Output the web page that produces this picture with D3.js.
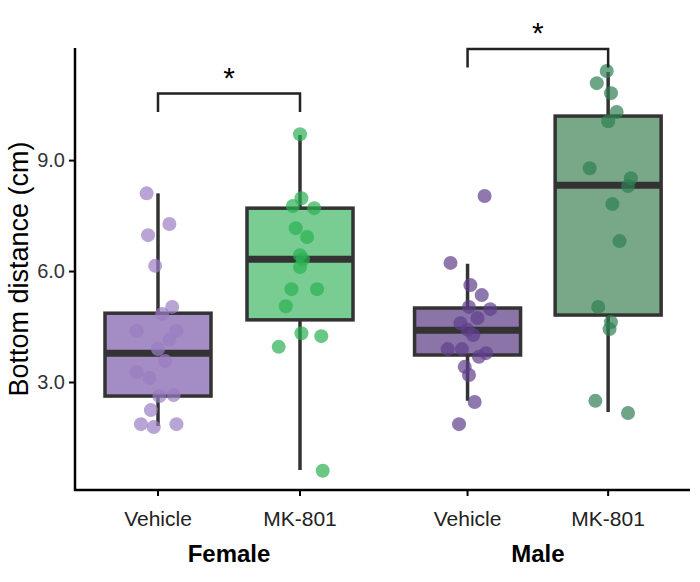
<!DOCTYPE html>
<html><head><meta charset="utf-8">
<script src="https://cdn.jsdelivr.net/npm/d3@7"></script>
<style>body{margin:0;background:#fff}text{font-family:"Liberation Sans",Arial,sans-serif}</style>
</head><body><div class="canvas"></div>
<script>
// groups: position on the x axis (female pair, gap, male pair)
const labels = ['Vehicle', 'MK-801', 'Vehicle', 'MK-801']
const positions = [1, 2, 3.18, 4.17]
const sexes = ['Female', 'Male']
const yTicks = [3, 6, 9]

// box stats: lower whisker, q1, median, q3, upper whisker
const boxStats = [
  [1.81, 2.62, 3.78, 4.86, 8.1],
  [0.62, 4.68, 6.32, 7.70, 9.68],
  [2.49, 3.73, 4.4, 5.0, 6.2],
  [2.19, 4.81, 8.32, 10.19, 11.38]
]

// points: [jitter offset, value]
const femaleVehicle = [[-0.08,8.1],[0.08,7.27],[-0.07,6.97],[-0.02,6.14],[0.1,5.03],[0.03,4.84],[-0.15,4.38],[0.13,4.38],[0.08,4.14],[0,3.89],[0.05,3.57],[-0.15,3.27],[-0.06,3.11],[0.01,2.62],[0.11,2.65],[-0.05,2.24],[-0.12,1.86],[-0.03,1.78],[0.13,1.86]]
const femaleMK = [[0,9.7],[0.01,7.97],[-0.05,7.76],[0.1,7.7],[-0.03,7.16],[0.05,6.92],[0,6.43],[0.02,6.32],[0,6.11],[-0.06,5.51],[0.12,5.51],[-0.1,5.05],[0.01,4.32],[0.15,4.24],[-0.15,3.95],[0.16,0.6]]
const maleVehicle = [[0.12,8.03],[-0.12,6.22],[0.02,5.62],[0.1,5.35],[0.01,5.03],[0.16,4.97],[0.07,4.73],[-0.05,4.59],[0,4.41],[0.04,4.27],[-0.14,3.89],[-0.04,3.89],[0.13,3.78],[0.08,3.68],[-0.02,3.41],[0.01,3.19],[0.05,2.46],[-0.06,1.86]]
const maleMK = [[-0.01,11.41],[-0.08,11.08],[0.02,10.81],[0.06,10.3],[0,10.05],[-0.13,8.78],[0.16,8.51],[0.14,8.3],[0.03,7.81],[0.08,6.81],[-0.07,5.03],[0.02,4.62],[0.01,4.43],[-0.09,2.49],[0.14,2.16]]
const points = [femaleVehicle, femaleMK, maleVehicle, maleMK]

const boxFill = ['#a48cc4', '#79cc92', '#8a74a8', '#78a888']
const pointFill = ['#9a7ec3', '#2bb052', '#5f3f8c', '#2f7f52']

// significance brackets: [left group, right group, height value]
const brackets = [[0, 1, 10.8, 10.3], [2, 3, 12.0, 11.5]]

const W = 700, H = 582
const svg = d3.select('.canvas').append('svg').attr('width', W).attr('height', H)

const x = d3.scaleLinear().domain([1, 2]).range([158, 300])
const y = d3.scaleLinear().domain([0.08, 3]).range([490, 382])
const bw = 106

// axes
const yAxis = d3.axisLeft(y).tickValues(yTicks).tickSize(6).tickSizeOuter(0)
const yg = svg.append('g').attr('transform', 'translate(75,0)').call(yAxis)
yg.select('.domain').remove()
yg.append('line').attr('x1', 0).attr('x2', 0).attr('y1', 48).attr('y2', 491).attr('stroke', '#000').attr('stroke-width', 2.5)
yg.selectAll('.tick line').attr('stroke', '#000').attr('stroke-width', 2)
yg.selectAll('.tick text').attr('font-size', 20).attr('fill', '#333').attr('x', -10)

const xg = svg.append('g').attr('transform', 'translate(0,490)')
xg.append('line').attr('x1', 74).attr('x2', W - 10).attr('stroke', '#000').attr('stroke-width', 2.5)
positions.forEach((p, i) => {
  xg.append('line').attr('x1', x(p)).attr('x2', x(p)).attr('y1', 0).attr('y2', 6).attr('stroke', '#000').attr('stroke-width', 2)
  xg.append('text').attr('x', x(p)).attr('y', 36).attr('text-anchor', 'middle').attr('font-size', 21).attr('fill', '#222').text(labels[i])
})
sexes.forEach((s, i) => {
  svg.append('text').attr('x', (x(positions[2 * i]) + x(positions[2 * i + 1])) / 2).attr('y', 562)
    .attr('text-anchor', 'middle').attr('font-size', 24).attr('font-weight', 'bold').text(s)
})
svg.append('text').attr('transform', `translate(28,${y(6) - 2}) rotate(-90)`).attr('text-anchor', 'middle')
  .attr('font-size', 27).text('Bottom distance (cm)')

// boxes
boxStats.forEach((b, i) => {
  const cx = x(positions[i])
  const g = svg.append('g')
  g.append('line').attr('x1', cx).attr('x2', cx).attr('y1', y(b[0])).attr('y2', y(b[4])).attr('stroke', '#333').attr('stroke-width', 3.5)
  g.append('rect').attr('x', cx - bw / 2).attr('width', bw).attr('y', y(b[3])).attr('height', y(b[1]) - y(b[3]))
    .attr('fill', boxFill[i]).attr('stroke', '#333').attr('stroke-width', 3.5)
  g.append('line').attr('x1', cx - bw / 2).attr('x2', cx + bw / 2).attr('y1', y(b[2])).attr('y2', y(b[2])).attr('stroke', '#333').attr('stroke-width', 7)
})

// points
points.forEach((pts, i) => {
  svg.append('g').selectAll('circle').data(pts).enter().append('circle')
    .attr('cx', d => x(positions[i] + d[0])).attr('cy', d => y(d[1])).attr('r', 7)
    .attr('fill', pointFill[i]).attr('fill-opacity', 0.7)
})

// brackets
brackets.forEach(b => {
  const x1 = x(positions[b[0]]), x2 = x(positions[b[1]])
  svg.append('path').attr('d', `M${x1},${y(b[3])}V${y(b[2])}H${x2}V${y(b[3])}`)
    .attr('fill', 'none').attr('stroke', '#222').attr('stroke-width', 2.5)
  svg.append('text').attr('x', (x1 + x2) / 2).attr('y', y(b[2]) - 6).attr('text-anchor', 'middle')
    .attr('font-size', 30).text('*')
})
</script></body></html>
